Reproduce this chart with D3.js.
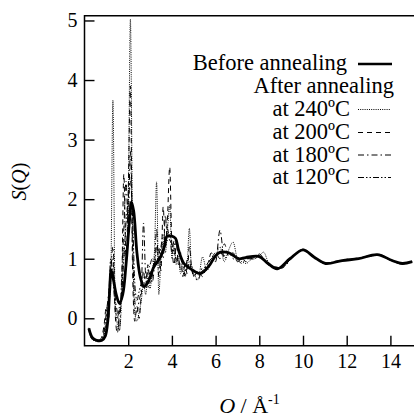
<!DOCTYPE html>
<html>
<head>
<meta charset="utf-8">
<script src="https://cdn.jsdelivr.net/npm/d3@7"></script>
<style>
  body { margin: 0; background: white; }
  svg { display: block; }
  text { font-family: "Liberation Serif", "Times New Roman", serif; fill: black; }
</style>
</head>
<body>
<div id="chart-area"></div>
<script>
// Before annealing (smooth, amorphous)
var qBefore = [0.2, 0.35, 0.55, 0.8, 0.95, 1.07, 1.15, 1.22, 1.3, 1.45, 1.6, 1.75, 1.9, 2.05, 2.15, 2.25, 2.4, 2.55, 2.72, 2.9, 3.17, 3.48, 3.65, 3.78, 4.0, 4.17, 4.3, 4.55, 4.9, 5.31, 5.7, 6.0, 6.22, 6.6, 7.06, 7.37, 7.98, 8.4, 8.82, 9.4, 10.0, 10.5, 11.03, 11.79, 12.55, 13.4, 14.08, 14.54, 15.0];
var sBefore = [-0.17, -0.32, -0.37, -0.37, -0.3, -0.03, 0.45, 0.81, 0.7, 0.4, 0.25, 0.4, 0.9, 1.6, 1.95, 1.8, 1.1, 0.7, 0.53, 0.6, 0.86, 1.03, 1.2, 1.38, 1.38, 1.34, 1.15, 0.92, 0.82, 0.75, 0.88, 1.05, 1.11, 1.1, 1.0, 1.02, 1.04, 0.92, 0.83, 1.0, 1.15, 1.03, 0.92, 0.97, 1.0, 1.07, 0.97, 0.92, 0.95];

// After annealing, shared Q grid
var qAfter = [0.2, 0.3, 0.4, 0.5, 0.6, 0.7, 0.8, 0.9, 1.0, 1.1, 1.2, 1.3, 1.4, 1.5, 1.6, 1.7, 1.8, 1.9, 2.0, 2.1,
  2.2, 2.3, 2.4, 2.5, 2.6, 2.7, 2.8, 2.9, 3.0, 3.1, 3.2, 3.3, 3.4, 3.5, 3.6, 3.7, 3.8, 3.9, 4.0, 4.1,
  4.2, 4.3, 4.4, 4.5, 4.6, 4.7, 4.8, 4.9, 5.0, 5.2, 5.4, 5.6, 5.8, 6.0, 6.2, 6.4, 6.6, 6.8, 7.0, 7.2,
  7.4, 7.6, 7.8, 8.0, 8.2, 8.4, 8.6, 9.0, 9.5, 10.0, 10.5, 11.0, 11.5, 12.0, 12.5, 13.0, 13.5, 14.0, 14.5, 15.0];

var s240 = [-0.2, -0.33, -0.37, -0.38, -0.38, -0.37, -0.35, -0.28, -0.1, 0.2, 0.6, 3.66, 0.3, -0.1, -0.2, 0.3, 1.2, 0.9, 1.8, 5.02,
  1.5, 0.1, -0.05, 0.1, 0.3, 0.6, 0.4, 0.7, 0.5, 0.8, 1.1, 2.29, 0.4, 1.0, 1.3, 1.1, 1.5, 1.9, 1.0, 1.2,
  0.9, 1.0, 0.75, 0.8, 0.7, 0.9, 1.51, 0.8, 0.75, 0.65, 1.03, 0.8, 0.95, 1.05, 1.2, 0.95, 1.15, 1.28, 1.0, 0.95,
  0.92, 0.98, 1.0, 1.05, 1.11, 0.95, 0.87, 0.85, 1.02, 1.15, 1.03, 0.92, 0.95, 0.98, 1.0, 1.04, 1.07, 0.98, 0.92, 0.95];

var s200 = [-0.18, -0.32, -0.36, -0.37, -0.37, -0.36, -0.3, -0.1, 0.2, -0.05, 0.9, 1.0, 0.1, -0.25, 0.1, 0.5, 2.42, 1.0, 2.1, 3.9,
  0.8, -0.05, 0.2, 0.0, 0.4, 0.8, 0.5, 0.9, 0.6, 0.7, 1.0, 0.9, 1.2, 0.8, 1.87, 1.2, 1.7, 2.54, 1.2, 0.9,
  1.3, 0.9, 1.1, 0.7, 0.9, 0.75, 1.2, 0.85, 0.7, 0.8, 0.7, 0.9, 1.0, 1.1, 1.0, 1.25, 1.05, 1.1, 0.95, 1.0,
  0.95, 1.0, 1.02, 1.03, 1.0, 0.9, 0.86, 0.86, 1.03, 1.14, 1.02, 0.93, 0.95, 0.99, 1.01, 1.04, 1.06, 0.97, 0.92, 0.95];

var s180 = [-0.17, -0.31, -0.36, -0.37, -0.37, -0.37, -0.33, -0.2, 0.1, 0.4, 0.8, 1.2, 0.4, 0.1, -0.2, 0.7, 1.5, 2.3, 1.6, 2.8,
  1.2, 0.3, 0.1, 0.3, 0.5, 1.6, 0.7, 0.5, 0.8, 0.6, 0.9, 1.5, 0.7, 1.1, 1.0, 1.73, 1.3, 1.4, 1.1, 1.3,
  0.95, 1.05, 0.8, 0.95, 0.72, 1.0, 0.85, 0.9, 0.7, 0.64, 0.85, 0.85, 1.1, 0.95, 1.48, 1.0, 1.1, 1.0, 0.98, 0.92,
  1.0, 1.0, 1.0, 1.08, 1.0, 0.92, 0.86, 0.84, 1.01, 1.16, 1.04, 0.92, 0.96, 0.98, 1.0, 1.05, 1.07, 0.98, 0.91, 0.95];

var s120 = [-0.16, -0.3, -0.35, -0.37, -0.37, -0.37, -0.35, -0.25, 0.0, 0.3, 1.0, 0.7, 0.2, 0.0, 0.2, 0.4, 1.0, 1.6, 2.0, 2.3,
  1.7, 0.6, 0.3, 0.45, 0.6, 0.7, 0.65, 0.8, 0.9, 1.0, 0.85, 1.2, 1.0, 1.2, 1.4, 1.3, 1.5, 1.3, 1.25, 1.1,
  1.0, 0.95, 0.9, 0.85, 0.8, 0.85, 0.95, 0.8, 0.78, 0.75, 0.8, 0.9, 1.0, 1.05, 1.1, 1.05, 1.08, 1.05, 1.0, 1.0,
  1.0, 1.02, 1.05, 1.02, 0.98, 0.92, 0.86, 0.85, 1.02, 1.15, 1.03, 0.92, 0.95, 0.98, 1.0, 1.04, 1.07, 0.98, 0.92, 0.95];

var xTicks = [2, 4, 6, 8, 10, 12, 14];
var yTicks = [0, 1, 2, 3, 4, 5];

var legendLabels = ["at 240ºC", "at 200ºC", "at 180ºC", "at 120ºC"];
var dashes = ["1,1.2", "5,4", "6,3,1.5,3", "6,2,1.5,2,1.5,2"];

var plotLeft = 84.5, plotTop = 15.7, plotBottom = 345.7;
var width = 414, height = 413;

var svg = d3.select("#chart-area")
  .append("svg")
  .attr("width", width)
  .attr("height", height);

var x = d3.scaleLinear()
  .domain([0, 15.2])
  .range([plotLeft, plotLeft + 15.2 * 21.85]);

var y = d3.scaleLinear()
  .domain([-0.46, 5.08])
  .range([plotBottom, plotTop]);

var line = d3.line()
  .x(d => x(d[0]))
  .y(d => y(d[1]))
  .curve(d3.curveMonotoneX);

// annealed curves first, solid on top
var afterSeries = [s240, s200, s180, s120];
afterSeries.forEach((s, i) => {
  svg.append("path")
    .datum(qAfter.map((q, j) => [q, s[j]]))
    .attr("d", line)
    .attr("fill", "none")
    .attr("stroke", "black")
    .attr("stroke-width", 1)
    .attr("stroke-dasharray", dashes[i]);
});

svg.append("path")
  .datum(qBefore.map((q, j) => [q, sBefore[j]]))
  .attr("d", line.curve(d3.curveCatmullRom))
  .attr("fill", "none")
  .attr("stroke", "black")
  .attr("stroke-width", 2.8)
  .attr("stroke-linejoin", "round");

// axes
var xAxisCall = d3.axisBottom(x)
  .tickValues(xTicks)
  .tickSize(-10)
  .tickPadding(8)
  .tickFormat(d3.format("d"));
var xAxisGroup = svg.append("g")
  .attr("transform", "translate(0," + plotBottom + ")")
  .call(xAxisCall);

var yAxisCall = d3.axisLeft(y)
  .tickValues(yTicks)
  .tickSize(-10)
  .tickPadding(7)
  .tickFormat(d3.format("d"));
var yAxisGroup = svg.append("g")
  .attr("transform", "translate(" + plotLeft + ",0)")
  .call(yAxisCall);

svg.selectAll(".domain").remove();
svg.selectAll(".tick line")
  .attr("stroke", "black")
  .attr("stroke-width", 1.4);
svg.selectAll(".tick text")
  .attr("font-family", "Liberation Serif")
  .attr("font-size", "20px")
  .attr("fill", "black");

// frame (right side runs off the picture)
svg.append("path")
  .attr("d", "M" + (width + 2) + "," + plotTop + "H" + plotLeft + "V" + plotBottom + "H" + (width + 2))
  .attr("fill", "none")
  .attr("stroke", "black")
  .attr("stroke-width", 1.5);

// axis labels
var yLabel = svg.append("text")
  .attr("transform", "translate(26,181.5) rotate(-90)")
  .attr("text-anchor", "middle")
  .attr("font-size", "20px");
yLabel.append("tspan").attr("font-style", "italic").text("S");
yLabel.append("tspan").text("(");
yLabel.append("tspan").attr("font-style", "italic").text("Q");
yLabel.append("tspan").text(")");

var xLabel = svg.append("text")
  .attr("x", 249.5)
  .attr("y", 413)
  .attr("text-anchor", "middle")
  .attr("font-size", "22px");
xLabel.append("tspan").attr("font-style", "italic").text("Q");
xLabel.append("tspan").text(" / Å");
xLabel.append("tspan").attr("font-size", "14px").attr("dy", "-9").text("-1");

// legend
var legend = svg.append("g");
var rowY = [70, 93, 116, 139, 161.5, 184];
var textEnd = 347, sampleX0 = 358, sampleX1 = 392;

legend.append("text")
  .attr("x", textEnd)
  .attr("y", rowY[0])
  .attr("text-anchor", "end")
  .attr("font-size", "22.5px")
  .text("Before annealing");
legend.append("line")
  .attr("x1", sampleX0).attr("x2", sampleX1)
  .attr("y1", rowY[0] - 6).attr("y2", rowY[0] - 6)
  .attr("stroke", "black")
  .attr("stroke-width", 2.5);

legend.append("text")
  .attr("x", 394)
  .attr("y", rowY[1])
  .attr("text-anchor", "end")
  .attr("font-size", "22.5px")
  .text("After annealing");

legendLabels.forEach((lab, i) => {
  var yy = rowY[i + 2];
  legend.append("text")
    .attr("x", 350)
    .attr("y", yy)
    .attr("text-anchor", "end")
    .attr("font-size", "22.5px")
    .text(lab);
  legend.append("line")
    .attr("x1", sampleX0).attr("x2", sampleX1 - 1)
    .attr("y1", yy - 6.5).attr("y2", yy - 6.5)
    .attr("stroke", "black")
    .attr("stroke-width", 1)
    .attr("stroke-dasharray", dashes[i]);
});
</script>
</body>
</html>
